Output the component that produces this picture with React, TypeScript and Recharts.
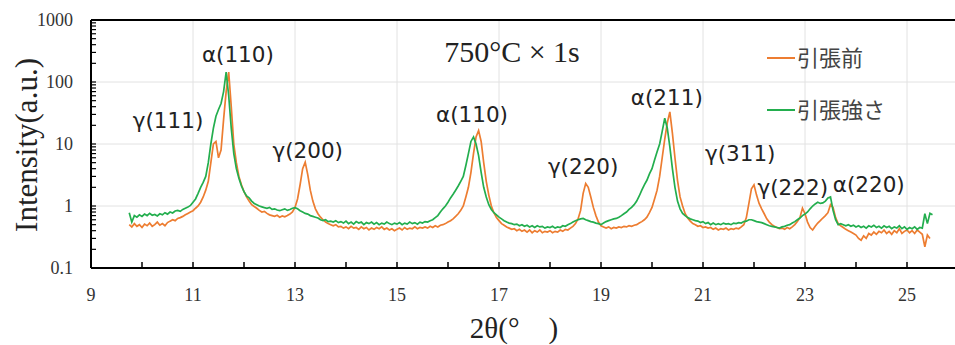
import React from 'react';
import { LineChart, Line, XAxis, YAxis, ReferenceLine, ReferenceDot } from 'recharts';

// 2θ sampling positions (deg)
const twoTheta = [
  9.75, 9.8, 9.85, 9.9, 9.95,
  10, 10.05, 10.1, 10.15, 10.2, 10.25, 10.3, 10.35, 10.4, 10.45, 10.5, 10.55, 10.6, 10.65, 10.7, 10.75, 10.8, 10.85, 10.9, 10.95,
  11, 11.05, 11.1, 11.15, 11.2, 11.25, 11.3, 11.35, 11.4, 11.45, 11.5, 11.55, 11.6, 11.65, 11.7, 11.75, 11.8, 11.85, 11.9, 11.95,
  12, 12.05, 12.1, 12.15, 12.2, 12.25, 12.3, 12.35, 12.4, 12.45, 12.5, 12.55, 12.6, 12.65, 12.7, 12.75, 12.8, 12.85, 12.9, 12.95,
  13, 13.05, 13.1, 13.15, 13.2, 13.25, 13.3, 13.35, 13.4, 13.45, 13.5, 13.55, 13.6, 13.65, 13.7, 13.75, 13.8, 13.85, 13.9, 13.95,
  14, 14.05, 14.1, 14.15, 14.2, 14.25, 14.3, 14.35, 14.4, 14.45, 14.5, 14.55, 14.6, 14.65, 14.7, 14.75, 14.8, 14.85, 14.9, 14.95,
  15, 15.05, 15.1, 15.15, 15.2, 15.25, 15.3, 15.35, 15.4, 15.45, 15.5, 15.55, 15.6, 15.65, 15.7, 15.75, 15.8, 15.85, 15.9, 15.95,
  16, 16.05, 16.1, 16.15, 16.2, 16.25, 16.3, 16.35, 16.4, 16.45, 16.5, 16.55, 16.6, 16.65, 16.7, 16.75, 16.8, 16.85, 16.9, 16.95,
  17, 17.05, 17.1, 17.15, 17.2, 17.25, 17.3, 17.35, 17.4, 17.45, 17.5, 17.55, 17.6, 17.65, 17.7, 17.75, 17.8, 17.85, 17.9, 17.95,
  18, 18.05, 18.1, 18.15, 18.2, 18.25, 18.3, 18.35, 18.4, 18.45, 18.5, 18.55, 18.6, 18.65, 18.7, 18.75, 18.8, 18.85, 18.9, 18.95,
  19, 19.05, 19.1, 19.15, 19.2, 19.25, 19.3, 19.35, 19.4, 19.45, 19.5, 19.55, 19.6, 19.65, 19.7, 19.75, 19.8, 19.85, 19.9, 19.95,
  20, 20.05, 20.1, 20.15, 20.2, 20.25, 20.3, 20.35, 20.4, 20.45, 20.5, 20.55, 20.6, 20.65, 20.7, 20.75, 20.8, 20.85, 20.9, 20.95,
  21, 21.05, 21.1, 21.15, 21.2, 21.25, 21.3, 21.35, 21.4, 21.45, 21.5, 21.55, 21.6, 21.65, 21.7, 21.75, 21.8, 21.85, 21.9, 21.95,
  22, 22.05, 22.1, 22.15, 22.2, 22.25, 22.3, 22.35, 22.4, 22.45, 22.5, 22.55, 22.6, 22.65, 22.7, 22.75, 22.8, 22.85, 22.9, 22.95,
  23, 23.05, 23.1, 23.15, 23.2, 23.25, 23.3, 23.35, 23.4, 23.45, 23.5, 23.55, 23.6, 23.65, 23.7, 23.75, 23.8, 23.85, 23.9, 23.95,
  24, 24.05, 24.1, 24.15, 24.2, 24.25, 24.3, 24.35, 24.4, 24.45, 24.5, 24.55, 24.6, 24.65, 24.7, 24.75, 24.8, 24.85, 24.9, 24.95,
  25, 25.05, 25.1, 25.15, 25.2, 25.25, 25.3, 25.35, 25.4, 25.45, 25.5,
];

// 引張前
const beforeTension = [
  .50, .46, .52, .47, .50,
  .45, .51, .48, .53, .47, .50, .55, .49, .52, .48, .54, .57, .60, .58, .63, .65, .68, .72, .76, .80,
  .84, .92, 1.0, 1.15, 1.4, 1.8, 2.5, 5, 10, 11, 6, 8, 25, 70, 145, 40, 10, 5, 3, 2.2,
  1.7, 1.4, 1.2, 1.05, .98, .92, .85, .8, .82, .76, .72, .7, .68, .71, .66, .69, .67, .7, .74, .8,
  .95, 1.3, 2.2, 4, 5.1, 3.2, 1.8, 1.2, .9, .75, .66, .6, .55, .52, .5, .48, .5, .46, .47, .44,
  .46, .43, .47, .44, .45, .42, .46, .43, .45, .41, .44, .42, .45, .43, .46, .42, .44, .41, .43, .4,
  .42, .44, .41, .45, .42, .44, .43, .46, .43, .45, .44, .46, .44, .47, .45, .48, .46, .49, .5, .52,
  .55, .58, .62, .68, .75, .85, 1.0, 1.4, 2.0, 3.5, 7, 13, 16.5, 11, 5, 2.5, 1.5, 1.0, .78, .65,
  .58, .52, .49, .46, .44, .42, .43, .4, .42, .39, .41, .38, .41, .37, .4, .38, .41, .37, .39, .38,
  .4, .37, .39, .38, .41, .39, .42, .41, .44, .47, .52, .62, .85, 1.6, 2.3, 2.0, 1.4, .95, .7, .55,
  .48, .46, .44, .46, .43, .45, .44, .46, .45, .47, .46, .48, .47, .49, .5, .53, .56, .6, .66, .78,
  .95, 1.3, 1.8, 3, 6, 12, 22, 33, 15, 6, 2.6, 1.4, 1.0, .75, .64, .57, .52, .5, .47, .48,
  .45, .46, .44, .45, .42, .44, .41, .43, .42, .44, .41, .43, .42, .44, .43, .46, .5, .65, 1.1, 1.9,
  2.2, 1.5, 1.1, .9, .75, .62, .55, .5, .47, .45, .43, .44, .42, .45, .43, .46, .5, .56, .65, .92,
  .75, .55, .45, .41, .47, .53, .58, .64, .7, .78, 1.05, .95, .65, .52, .48, .45, .42, .4, .38, .36,
  .34, .3, .28, .33, .3, .36, .34, .38, .35, .39, .37, .41, .36, .39, .35, .4, .37, .43, .36, .39,
  .41, .37, .4, .36, .41, .38, .35, .22, .34, .3, null,
];

// 引張強さ
const tensileStrength = [
  .78, .55, .70, .66, .72,
  .68, .74, .70, .76, .71, .73, .69, .75, .72, .78, .74, .80, .77, .83, .85, .82, .88, .92, .96, 1.02,
  1.15, 1.3, 1.6, 2.0, 2.4, 3.0, 5, 10, 18, 28, 36, 45, 70, 145, 60, 18, 7, 4, 2.8, 2.1,
  1.7, 1.45, 1.35, 1.2, 1.1, 1.05, 1.0, .97, .94, .92, .95, .88, .9, .86, .84, .87, .9, .85, .88, .92,
  .94, .9, .84, .8, .76, .74, .7, .68, .66, .64, .6, .58, .6, .56, .57, .55, .58, .54, .56, .53,
  .57, .52, .55, .51, .56, .53, .55, .5, .54, .52, .55, .51, .54, .5, .53, .51, .55, .52, .5, .53,
  .51, .54, .5, .53, .51, .55, .52, .54, .51, .55, .53, .56, .55, .58, .6, .65, .7, .8, .9, 1.0,
  1.15, 1.35, 1.55, 1.8, 2.1, 2.5, 3.0, 4.5, 7, 11, 13, 10, 6.5, 3.5, 2.0, 1.4, 1.05, .88, .78, .72,
  .66, .62, .58, .55, .53, .52, .5, .51, .48, .5, .47, .49, .46, .48, .45, .48, .46, .47, .44, .46,
  .45, .47, .44, .46, .45, .48, .47, .5, .52, .55, .58, .6, .62, .63, .6, .58, .56, .55, .53, .52,
  .5, .53, .56, .58, .6, .62, .63, .66, .7, .75, .8, .88, .95, 1.05, 1.2, 1.45, 1.8, 2.2, 2.6, 3.3,
  4, 5.5, 7.5, 10, 16, 26, 18, 9, 4, 2.0, 1.2, .9, .76, .7, .65, .62, .6, .58, .57, .54,
  .56, .52, .54, .5, .53, .5, .52, .5, .53, .51, .52, .5, .53, .52, .54, .53, .56, .57, .6, .6,
  .58, .56, .55, .54, .52, .5, .48, .47, .46, .45, .44, .46, .47, .49, .5, .53, .56, .6, .64, .7,
  .74, .8, .9, 1.0, 1.08, 1.15, 1.1, 1.12, 1.2, 1.35, 1.4, .85, .6, .5, .52, .5, .48, .5, .47, .49,
  .46, .48, .45, .47, .44, .48, .46, .49, .45, .47, .44, .48, .45, .47, .43, .46, .44, .48, .43, .46,
  .42, .45, .43, .46, .42, .45, .44, .75, .52, .76, .72,
];

const seriesNames = ['引張前', '引張強さ'];
const xTicks = [9, 10, 11, 12, 13, 14, 15, 16, 17, 18, 19, 20, 21, 22, 23, 24, 25];
const xGrid = [11, 13, 15, 17, 19, 21, 23, 25];
const yTicks = [
  0.1, 0.2, 0.3, 0.4, 0.5, 0.6, 0.7, 0.8, 0.9,
  1, 2, 3, 4, 5, 6, 7, 8, 9,
  10, 20, 30, 40, 50, 60, 70, 80, 90,
  100, 200, 300, 400, 500, 600, 700, 800, 900, 1000,
];
const yGrid = [1, 10, 100];

const peakLabels = [
  { text: 'γ(111)', x: 10.51, y: 24 },
  { text: 'α(110)', x: 11.88, y: 273 },
  { text: 'γ(200)', x: 13.25, y: 8 },
  { text: 'α(110)', x: 16.47, y: 30 },
  { text: 'γ(220)', x: 18.65, y: 4.3 },
  { text: 'α(211)', x: 20.29, y: 57 },
  { text: 'γ(311)', x: 21.73, y: 6.9 },
  { text: 'γ(222)', x: 22.76, y: 2.0 },
  { text: 'α(220)', x: 24.25, y: 2.2 },
];

const ORANGE = '#ED7D31';
const GREEN = '#23AE4E';
const SERIF = '"Liberation Serif", "Times New Roman", serif';

const data = twoTheta.map((x, i) => ({ x, a: beforeTension[i], b: tensileStrength[i] }));

const isDecade = (v: number) => Math.abs(Math.log10(v) - Math.round(Math.log10(v))) < 1e-9;

const XTick = (props: any) => {
  const { x, y, payload } = props;
  const v = payload.value;
  return (
    <g>
      <line x1={x} x2={x} y1={y} y2={y - 6} stroke="#000" strokeWidth={1.5} />
      {v % 2 === 1 && (
        <text x={x} y={y + 33} textAnchor="middle" fontFamily={SERIF} fontSize={18} fill="#333">
          {v}
        </text>
      )}
    </g>
  );
};

const YTick = (props: any) => {
  const { x, y, payload } = props;
  const v = payload.value;
  return (
    <g>
      <line x1={x} x2={x + 5} y1={y} y2={y} stroke="#000" strokeWidth={1.2} />
      {isDecade(v) && (
        <text x={x - 18} y={y + 6} textAnchor="end" fontFamily={SERIF} fontSize={18} fill="#333">
          {v}
        </text>
      )}
    </g>
  );
};

const PeakText = (text: string) => (props: any) => (
  <text
    x={props.cx}
    y={props.cy}
    textAnchor="middle"
    dominantBaseline="central"
    fontFamily='"DejaVu Sans", Verdana, sans-serif'
    fontSize={21.5}
    fill="#222"
  >
    {text}
  </text>
);

export default function App() {
  return (
    <div style={{ position: 'absolute', left: 0, top: 0, width: 955, height: 345, overflow: 'hidden', background: '#fff' }}>
      <LineChart width={960} height={345} data={data} margin={{ top: 20, right: 2, bottom: 47, left: 31 }}>
        {xGrid.map((v) => (
          <ReferenceLine key={`gx${v}`} x={v} stroke="#E2E2E2" strokeWidth={1} />
        ))}
        {yGrid.map((v) => (
          <ReferenceLine key={`gy${v}`} y={v} stroke="#E2E2E2" strokeWidth={1} />
        ))}
        <ReferenceLine y={1000} stroke="#000" strokeWidth={2} />
        <XAxis
          dataKey="x"
          type="number"
          domain={[9, 26]}
          ticks={xTicks}
          interval={0}
          allowDataOverflow
          height={30}
          tickLine={false}
          tickSize={0}
          tickMargin={0}
          tick={<XTick />}
          axisLine={{ stroke: '#000', strokeWidth: 2 }}
        />
        <YAxis
          scale="log"
          domain={[0.1, 1000]}
          ticks={yTicks}
          interval={0}
          allowDataOverflow
          width={60}
          tickLine={false}
          tickSize={0}
          tickMargin={0}
          tick={<YTick />}
          axisLine={{ stroke: '#000', strokeWidth: 2 }}
        />
        <Line
          name={seriesNames[0]}
          type="linear"
          dataKey="a"
          stroke={ORANGE}
          strokeWidth={1.7}
          dot={false}
          isAnimationActive={false}
        />
        <Line
          name={seriesNames[1]}
          type="linear"
          dataKey="b"
          stroke={GREEN}
          strokeWidth={1.7}
          dot={false}
          isAnimationActive={false}
        />
        {peakLabels.map((p, i) => (
          <ReferenceDot key={`pk${i}`} x={p.x} y={p.y} r={1} shape={PeakText(p.text)} />
        ))}
      </LineChart>
      <svg width={955} height={345} style={{ position: 'absolute', left: 0, top: 0, pointerEvents: 'none' }}>
        <text x={512} y={62} textAnchor="middle" fontFamily={SERIF} fontSize={30} fill="#222">
          750°C × 1s
        </text>
        <line x1={767} x2={795} y1={58} y2={58} stroke={ORANGE} strokeWidth={2} />
        <text x={797} y={66} fontFamily='"Noto Sans CJK JP", sans-serif' fontSize={22} fill="#444">
          {seriesNames[0]}
        </text>
        <line x1={767} x2={795} y1={110} y2={110} stroke={GREEN} strokeWidth={2} />
        <text x={797} y={118} fontFamily='"Noto Sans CJK JP", sans-serif' fontSize={22} fill="#444">
          {seriesNames[1]}
        </text>
        <text
          x={37}
          y={145}
          transform="rotate(-90 37 145)"
          textAnchor="middle"
          fontFamily={SERIF}
          fontSize={31}
          fill="#222"
        >
          Intensity(a.u.)
        </text>
        <text x={514} y={338} textAnchor="middle" fontFamily={SERIF} fontSize={29} fill="#222">
          2θ(°　)
        </text>
      </svg>
    </div>
  );
}
